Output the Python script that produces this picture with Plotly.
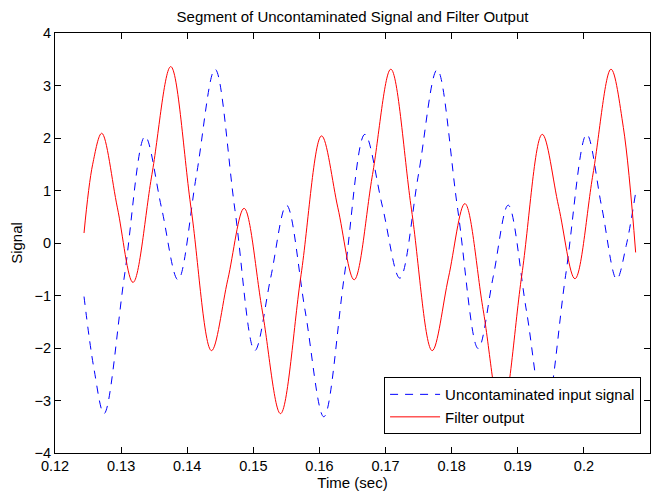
import plotly.graph_objects as go

# Uncontaminated input signal (extrema and intermediate points)
t_input = [0.12439, 0.12590, 0.12742, 0.13052, 0.13362, 0.13612, 0.13861, 0.14141,
           0.14421, 0.14722, 0.15022, 0.15262, 0.15502, 0.15784, 0.16066, 0.16377,
           0.16687, 0.16952, 0.17216, 0.17499, 0.17781, 0.18091, 0.18401, 0.18628,
           0.18855, 0.19131, 0.19406, 0.19724, 0.20042, 0.20269, 0.20496, 0.20640,
           0.20783]
y_input = [-1.02, -2.40, -3.25, -0.61, 2.03, 0.665, -0.70, 1.305,
           3.31, 0.63, -2.05, -0.665, 0.72, -1.295, -3.31, -0.62,
           2.07, 0.70, -0.67, 1.315, 3.30, 0.645, -2.01, -0.645,
           0.72, -1.29, -3.30, -0.615, 2.07, 0.69, -0.69, -0.05,
           0.96]

# Filter output
t_output = [0.12439, 0.12570, 0.12707, 0.12944, 0.13180, 0.13466, 0.13751, 0.14059,
            0.14367, 0.14614, 0.14860, 0.15136, 0.15411, 0.15722, 0.16032, 0.16279,
            0.16525, 0.16803, 0.17080, 0.17393, 0.17705, 0.17953, 0.18200, 0.18476,
            0.18751, 0.19061, 0.19370, 0.19618, 0.19865, 0.20138, 0.20410, 0.20597,
            0.20783]
y_output = [0.19, 1.50, 2.09, 0.67, -0.75, 1.305, 3.36, 0.655,
            -2.05, -0.695, 0.66, -1.295, -3.25, -0.605, 2.04, 0.67,
            -0.70, 1.305, 3.31, 0.63, -2.05, -0.65, 0.75, -1.27,
            -3.29, -0.61, 2.07, 0.695, -0.68, 1.315, 3.31, 2.20,
            -0.18]

x_ticks = [0.12, 0.13, 0.14, 0.15, 0.16, 0.17, 0.18, 0.19, 0.20, 0.21]
x_tick_labels = ["0.12", "0.13", "0.14", "0.15", "0.16", "0.17", "0.18", "0.19", "0.2", "0.21"]
y_ticks = [-4, -3, -2, -1, 0, 1, 2, 3, 4]

FONT = "Liberation Sans, Arial, Helvetica, sans-serif"

fig = go.Figure()
fig.add_trace(go.Scatter(
    x=t_input, y=y_input, mode="lines", name="Uncontaminated input signal",
    line=dict(color="#0000FF", width=1, dash="8px,7px", shape="spline", smoothing=1.0),
))
fig.add_trace(go.Scatter(
    x=t_output, y=y_output, mode="lines", name="Filter output",
    line=dict(color="#FF0000", width=1, shape="spline", smoothing=1.0),
))

axis_common = dict(
    showgrid=False, zeroline=False, showline=True, linecolor="black", linewidth=1,
    mirror="ticks", ticks="inside", ticklen=6, tickcolor="black", tickwidth=1,
    tickfont=dict(family=FONT, size=14.5, color="black"),
)

fig.update_layout(
    width=664, height=493,
    paper_bgcolor="white", plot_bgcolor="white",
    margin=dict(l=55, r=14, t=33, b=40, autoexpand=False),
    title=dict(text="Segment of Uncontaminated Signal and Filter Output",
               x=0.5, xref="paper", y=1 - 17 / 493, yref="container",
               xanchor="center", yanchor="middle",
               font=dict(family=FONT, size=15, color="black")),
    xaxis=dict(range=[0.12, 0.21], tickvals=x_ticks, ticktext=x_tick_labels,
               title=dict(text="Time (sec)", font=dict(family=FONT, size=15, color="black"), standoff=4),
               **axis_common),
    yaxis=dict(range=[-4, 4], tickvals=y_ticks,
               title=dict(text="Signal", font=dict(family=FONT, size=15, color="black"), standoff=8),
               **axis_common),
    legend=dict(x=0.985, y=0.045, xanchor="right", yanchor="bottom",
                bgcolor="white", bordercolor="black", borderwidth=1,
                font=dict(family=FONT, size=15, color="black"),
                tracegroupgap=0, itemwidth=50),
    showlegend=True,
)

fig.write_html("out.html", config={"displayModeBar": False},
               post_script="document.body.style.margin='0';")
